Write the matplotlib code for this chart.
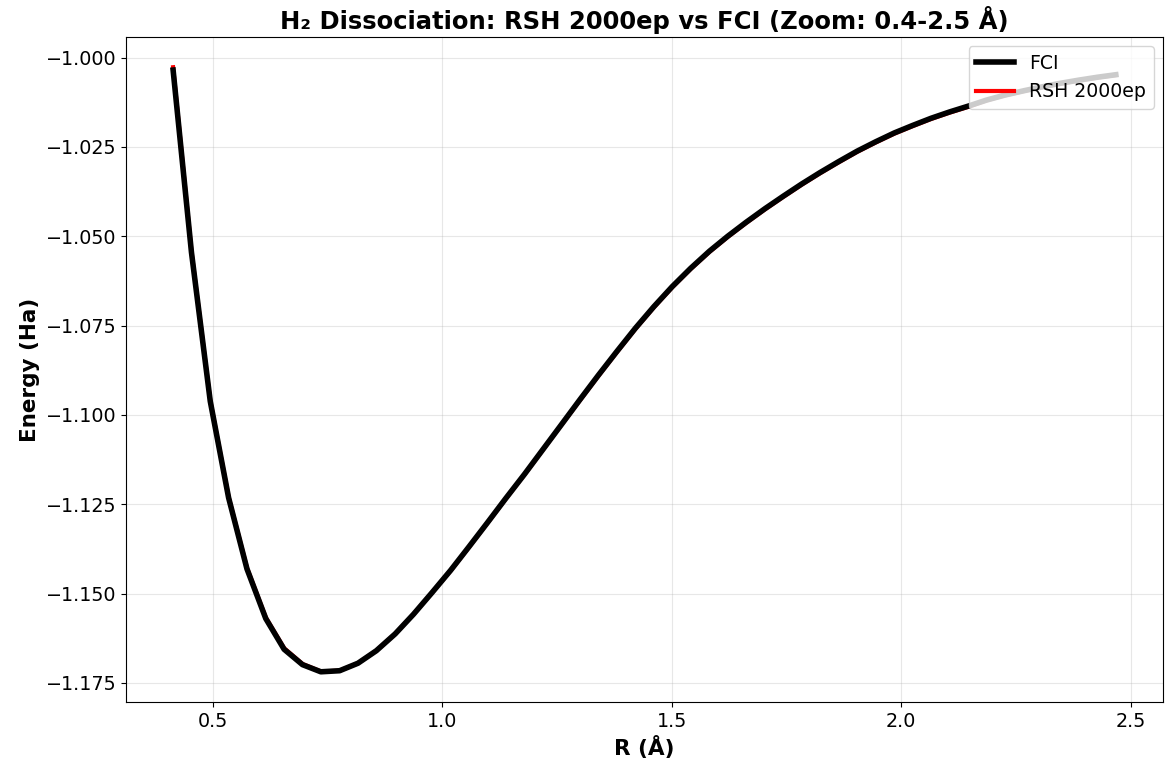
import matplotlib
matplotlib.use('Agg')
import matplotlib.pyplot as plt
import numpy as np

# bond lengths (Angstrom)
R = [0.413, 0.453, 0.494, 0.534, 0.574, 0.615, 0.655, 0.695, 0.735, 0.776,
     0.816, 0.856, 0.897, 0.937, 0.977, 1.018, 1.058, 1.098, 1.138, 1.179,
     1.219, 1.259, 1.300, 1.340, 1.380, 1.421, 1.461, 1.501, 1.541, 1.582,
     1.622, 1.662, 1.703, 1.743, 1.783, 1.823, 1.864, 1.904, 1.944, 1.985,
     2.025, 2.065, 2.106, 2.146, 2.186, 2.226, 2.267, 2.307, 2.347, 2.388,
     2.428, 2.468]

# FCI energies (Ha)
E_fci = [-1.0035, -1.0545, -1.0962, -1.1232, -1.1431, -1.1570, -1.1656, -1.1699, -1.1719, -1.1716,
         -1.1695, -1.1660, -1.1613, -1.1558, -1.1498, -1.1435, -1.1369, -1.1302, -1.1234, -1.1166,
         -1.1097, -1.1028, -1.0957, -1.0889, -1.0823, -1.0757, -1.0697, -1.0641, -1.0590, -1.0542,
         -1.0500, -1.0461, -1.0423, -1.0388, -1.0354, -1.0322, -1.0291, -1.0262, -1.0236, -1.0211,
         -1.0190, -1.0170, -1.0152, -1.0136, -1.0119, -1.0105, -1.0093, -1.0082, -1.0072, -1.0063,
         -1.0055, -1.0048]

# RSH model after 2000 epochs (Ha)
E_rsh = [-1.0027, -1.0542, -1.0960, -1.1230, -1.1428, -1.1567, -1.1653, -1.1697, -1.1718, -1.1716,
         -1.1695, -1.1660, -1.1613, -1.1558, -1.1498, -1.1436, -1.1370, -1.1303, -1.1235, -1.1167,
         -1.1098, -1.1029, -1.0959, -1.0891, -1.0825, -1.0759, -1.0699, -1.0643, -1.0592, -1.0544,
         -1.0502, -1.0463, -1.0425, -1.0390, -1.0356, -1.0324, -1.0293, -1.0264, -1.0238, -1.0213,
         -1.0192, -1.0172, -1.0154, -1.0138, -1.0120, -1.0106, -1.0094, -1.0083, -1.0073, -1.0064,
         -1.0056, -1.0049]


def main():
    fig, ax = plt.subplots(figsize=(11.74, 7.61), dpi=100)
    fig.subplots_adjust(left=0.1073, right=0.9906, top=0.9514, bottom=0.0775)

    ax.plot(R, E_fci, color='black', linewidth=4, label='FCI', zorder=3)
    ax.plot(R, E_rsh, color='red', linewidth=3, label='RSH 2000ep', zorder=2)

    ax.set_title('H₂ Dissociation: RSH 2000ep vs FCI (Zoom: 0.4-2.5 Å)',
                 fontsize=17.5, fontweight='bold')
    ax.set_xlabel('R (Å)', fontsize=15.5, fontweight='bold')
    ax.set_ylabel('Energy (Ha)', fontsize=15.5, fontweight='bold')
    ax.tick_params(labelsize=13.8)
    ax.grid(alpha=0.3)
    ax.legend(fontsize=13.6, loc='upper right')

    fig.savefig('out.png', dpi=100)


if __name__ == '__main__':
    main()
